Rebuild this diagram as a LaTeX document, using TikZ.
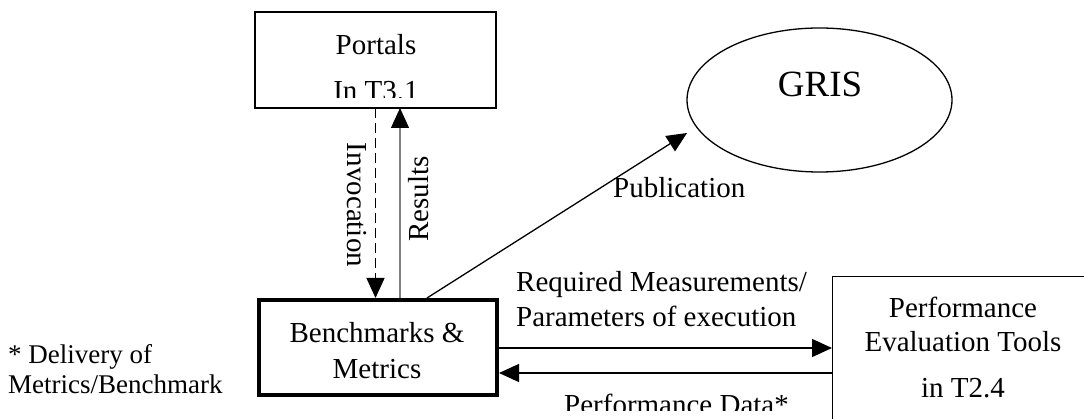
\documentclass[tikz,border=0pt]{standalone}
\usepackage{fontspec}
\setmainfont{Liberation Serif}
\usetikzlibrary{arrows.meta,shapes.geometric}
\begin{document}
\begin{tikzpicture}[x=1pt,y=-1pt,
  txt/.style={font=\fontsize{29}{34}\selectfont, inner sep=0pt},
  notetxt/.style={font=\fontsize{27}{31}\selectfont, inner sep=0pt},
  box/.style={draw, line width=1.3pt, inner sep=0pt},
  arr/.style={line width=1.3pt, -{Triangle[length=20pt,width=18pt]}},
]
\useasboundingbox (0,0) rectangle (1084,419);
\clip (0,0) rectangle (1084,419);
% Portals
\node[box, minimum width=241pt, minimum height=96pt] (portals) at (375.5,60) {};
\node[txt, anchor=base] (pl1) at (376,55) {Portals};
\begin{scope}
\clip (255,12) rectangle (497,98);
\node[txt, anchor=base] (pl2) at (376,101) {In T3.1};
\end{scope}
% Benchmarks
\node[draw, line width=4pt, minimum width=238pt, minimum height=95pt, inner sep=0pt] (bench) at (377.5,347.5) {};
\node[txt, anchor=base] (bl1) at (377,343) {Benchmarks \&};
\node[txt, anchor=base] (bl2) at (377,378) {Metrics};
% GRIS
\node[draw, ellipse, line width=1.3pt, minimum width=265pt, minimum height=144pt, inner sep=0pt] (gris) at (819.5,100) {};
\node[font=\fontsize{37}{40}\selectfont, inner sep=0pt, anchor=base] (gl) at (820,97) {GRIS};
% PET
\node[box, minimum width=300pt, minimum height=200pt, anchor=north west] (pet) at (832,276) {};
\node[txt, anchor=base] (p1) at (963,318) {Performance};
\node[txt, anchor=base] (p2) at (963,352) {Evaluation Tools};
\node[txt, anchor=base] (p3) at (963,397) {in T2.4};
% connectors
\coordinate (invT) at (375.5,108);
\coordinate (invB) at (375.5,298);
\coordinate (resB) at (400,298);
\coordinate (resT) at (400,108);
\draw[arr, dash pattern=on 10pt off 5pt] (invT) -- (invB);
\draw[line width=1.3pt, gray, -{Triangle[length=20pt,width=18pt,color=black]}] (resB) -- (resT);
\coordinate (pubS) at (427,298);
\coordinate (pubE) at (687,133);
\draw[arr] (pubS) -- (pubE);
\coordinate (reqS) at (498,348);
\coordinate (reqE) at (832,348);
\draw[arr] (reqS) -- (reqE);
\coordinate (pdS) at (832,373);
\coordinate (pdE) at (499,373);
\draw[arr] (pdS) -- (pdE);
% labels
\node[txt, rotate=-90] (linv) at (357,205) {Invocation};
\node[txt, rotate=90] (lres) at (419,199) {Results};
\node[txt, anchor=base west] (lpub) at (613,198) {Publication};
\node[txt, anchor=base west] (lr1) at (516,292) {Required Measurements/};
\node[txt, anchor=base west] (lr2) at (516,327) {Parameters of execution};
\begin{scope}
\clip (500,380) rectangle (830,410);
\node[txt, anchor=base west] (lpd) at (564,414) {Performance Data*};
\end{scope}
\node[notetxt, anchor=base west] (n1) at (8,363) {* Delivery of};
\node[notetxt, anchor=base west] (n2) at (8,393) {Metrics/Benchmark};
\end{tikzpicture}
\end{document}
